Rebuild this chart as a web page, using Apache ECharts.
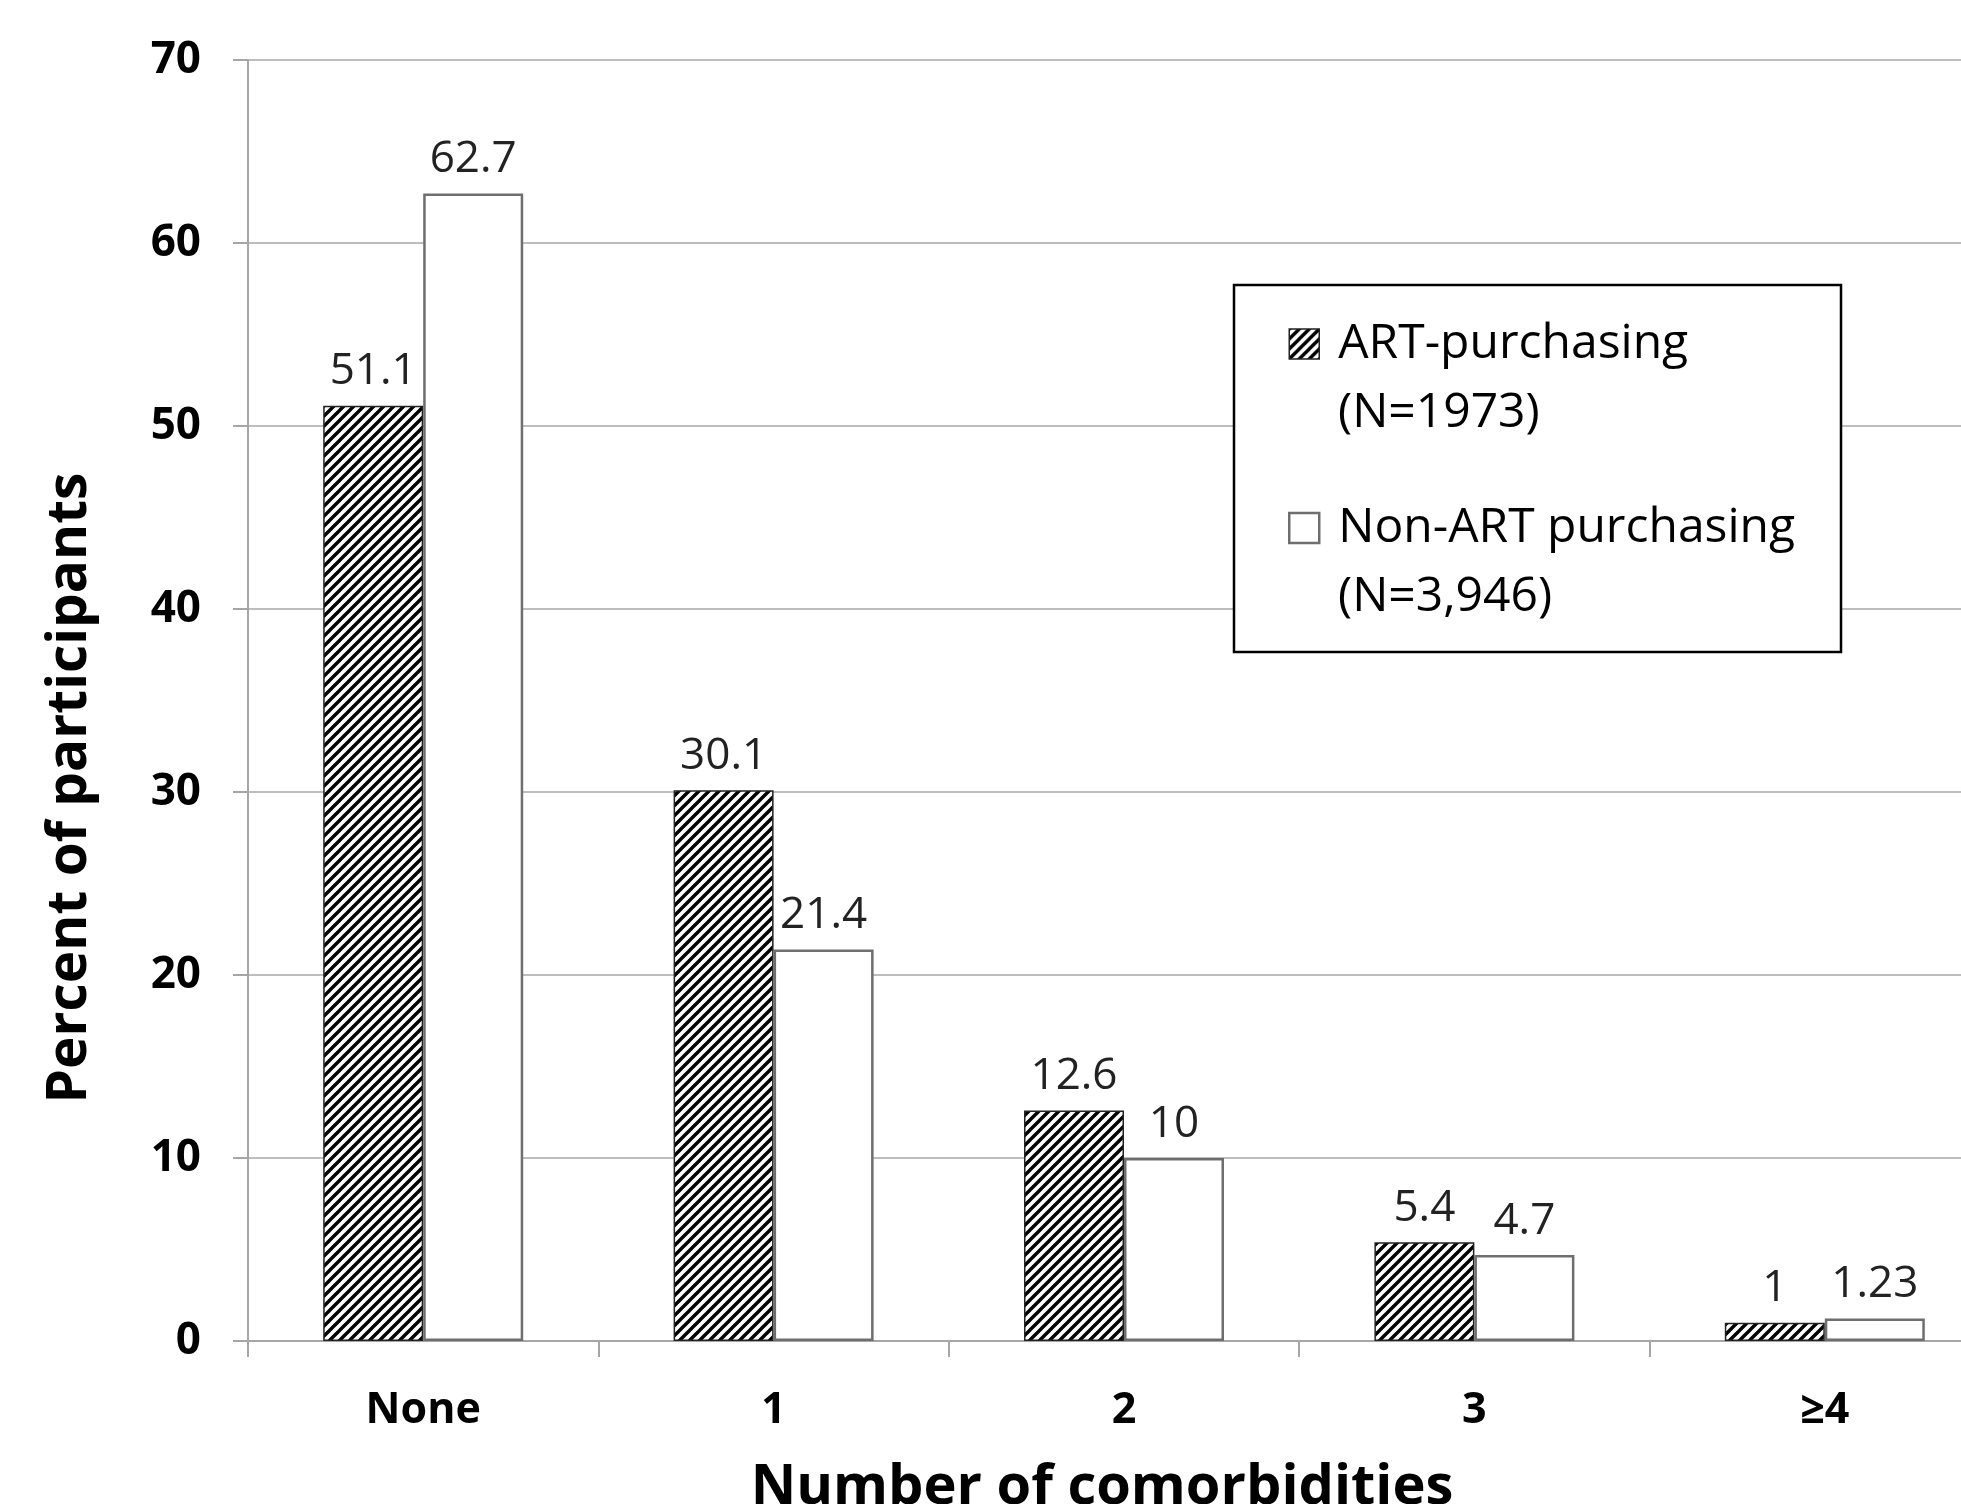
<!DOCTYPE html>
<html>
<head>
<meta charset="utf-8">
<script src="https://cdn.jsdelivr.net/npm/echarts@6/dist/echarts.min.js"></script>
<style>
  html, body { margin: 0; padding: 0; background: #fff; }
  #chart { width: 1961px; height: 1504px; }
</style>
</head>
<body>
<div id="chart"></div>
<script>
// Share of participants by number of comorbidities, per purchasing group
const categories = ['None', '1', '2', '3', '≥4'];
const artPurchasing = [51.1, 30.1, 12.6, 5.4, 1];
const nonArtPurchasing = [62.7, 21.4, 10, 4.7, 1.23];
const seriesNames = ['ART-purchasing', 'Non-ART purchasing'];
const seriesCounts = ['(N=1973)', '(N=3,946)'];
const yMin = 0, yMax = 70, yStep = 10;

const FONT = '"Open Sans", "Noto Sans", sans-serif';

// Dark upward-diagonal hatch fill
function makeHatch() {
  const c = document.createElement('canvas');
  c.width = 10; c.height = 10;
  const g = c.getContext('2d');
  g.fillStyle = '#fff';
  g.fillRect(0, 0, 10, 10);
  g.strokeStyle = '#000';
  g.lineWidth = 3.4;
  g.beginPath();
  g.moveTo(-5, 5); g.lineTo(5, -5);
  g.moveTo(0, 10); g.lineTo(10, 0);
  g.moveTo(5, 15); g.lineTo(15, 5);
  g.stroke();
  return c;
}
const hatchFill = { image: makeHatch(), repeat: 'repeat' };

const hatchStyle = { color: hatchFill, borderColor: '#222', borderWidth: 1.5 };
const plainStyle = { color: '#fff', borderColor: '#6e6e6e', borderWidth: 2.5 };

const labelStyle = {
  show: true,
  position: 'top',
  distance: 12,
  fontFamily: FONT,
  fontSize: 44,
  lineHeight: 44,
  color: '#222'
};

// Legend geometry: first-line centres of the two entries, second line below each
const legendLineStep = 69;
const legendFirstLineY = [344, 528];
const legendTextX = 1338;

const chart = echarts.init(document.getElementById('chart'), null, { renderer: 'canvas' });

chart.setOption({
  animation: false,
  backgroundColor: '#fff',
  // the plot area runs past the right edge of the canvas
  grid: { left: 248, top: 60, width: 1752, height: 1281, containLabel: false, outerBoundsMode: 'none' },
  xAxis: {
    type: 'category',
    data: categories,
    axisLine: { show: true, lineStyle: { color: '#a6a6a6', width: 2 } },
    axisTick: { show: true, length: 16, interval: 0, lineStyle: { color: '#a6a6a6', width: 2 } },
    axisLabel: {
      interval: 0,
      margin: 48,
      fontFamily: FONT,
      fontSize: 43,
      fontWeight: 'bold',
      lineHeight: 43,
      color: '#000'
    },
    splitLine: { show: false }
  },
  yAxis: {
    type: 'value',
    min: yMin,
    max: yMax,
    interval: yStep,
    axisLine: { show: true, lineStyle: { color: '#a6a6a6', width: 2 } },
    axisTick: { show: true, length: 15, lineStyle: { color: '#a6a6a6', width: 2 } },
    axisLabel: {
      margin: 47,
      fontFamily: FONT,
      fontSize: 44,
      fontWeight: 'bold',
      color: '#000'
    },
    splitLine: { show: true, lineStyle: { color: '#bdbdbd', width: 2 } }
  },
  legend: {
    orient: 'vertical',
    left: 1288,
    top: legendFirstLineY[0] - 36,
    padding: 0,
    itemGap: (legendFirstLineY[1] - legendFirstLineY[0]) - 72,
    itemWidth: 30,
    itemHeight: 30,
    icon: 'rect',
    selectedMode: false,
    z: 5,
    textStyle: {
      fontFamily: FONT,
      fontSize: 48,
      lineHeight: 72,
      color: '#000',
      padding: [0, 0, 0, 14]
    },
    data: [
      { name: seriesNames[0], itemStyle: hatchStyle },
      { name: seriesNames[1], itemStyle: plainStyle }
    ]
  },
  graphic: [
    {
      type: 'rect',
      z: 3,
      shape: { x: 1234, y: 285, width: 607, height: 367 },
      style: { fill: '#fff', stroke: '#000', lineWidth: 2.5 }
    },
    {
      type: 'text',
      z: 5,
      x: legendTextX,
      y: legendFirstLineY[0] + legendLineStep,
      style: {
        text: seriesCounts[0],
        fontFamily: FONT,
        fontSize: 48,
        fill: '#000',
        align: 'left',
        verticalAlign: 'middle'
      }
    },
    {
      type: 'text',
      z: 5,
      x: legendTextX,
      y: legendFirstLineY[1] + legendLineStep,
      style: {
        text: seriesCounts[1],
        fontFamily: FONT,
        fontSize: 48,
        fill: '#000',
        align: 'left',
        verticalAlign: 'middle'
      }
    },
    {
      type: 'text',
      x: 70,
      y: 788,
      rotation: Math.PI / 2,
      style: {
        text: 'Percent of participants',
        fontFamily: FONT,
        fontSize: 55,
        fontWeight: 'bold',
        fill: '#000',
        align: 'center',
        verticalAlign: 'middle'
      }
    },
    {
      type: 'text',
      x: 1102,
      y: 1488,
      style: {
        text: 'Number of comorbidities',
        fontFamily: FONT,
        fontSize: 56,
        fontWeight: 'bold',
        fill: '#000',
        align: 'center',
        verticalAlign: 'middle'
      }
    }
  ],
  series: [
    {
      name: seriesNames[0],
      type: 'bar',
      data: artPurchasing,
      barWidth: 100,
      barGap: '0%',
      itemStyle: hatchStyle,
      label: labelStyle,
      emphasis: { disabled: true }
    },
    {
      name: seriesNames[1],
      type: 'bar',
      data: nonArtPurchasing,
      barWidth: 100,
      barGap: '0%',
      itemStyle: plainStyle,
      label: labelStyle,
      emphasis: { disabled: true }
    }
  ]
});
</script>
</body>
</html>
